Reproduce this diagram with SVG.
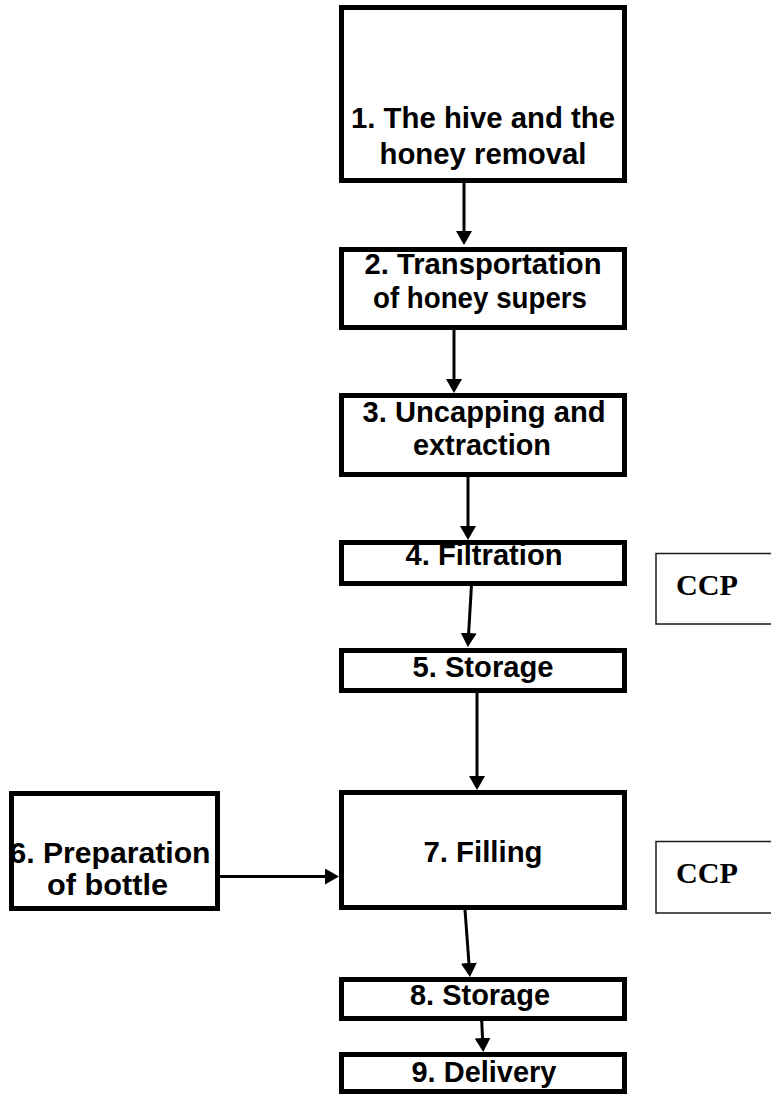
<svg xmlns="http://www.w3.org/2000/svg" width="771" height="1094" viewBox="0 0 771 1094">
  <style>
    .step { fill: #ffffff; stroke: #000000; stroke-width: 5; }
    .note { fill: #ffffff; stroke: #1a1a1a; stroke-width: 1.5; }
    .lbl { font-family: "Liberation Sans", Arial, sans-serif; font-weight: bold; font-size: 29px; fill: #000000; text-anchor: middle; }
    .ccp { font-family: "Liberation Serif", "Times New Roman", serif; font-weight: bold; font-size: 30px; fill: #000000; }
    .flow { stroke: #000000; stroke-width: 3; fill: none; marker-end: url(#head); }
  </style>
  <defs>
    <marker id="head" viewBox="0 0 14 16" refX="1" refY="8" markerWidth="14" markerHeight="16" markerUnits="userSpaceOnUse" orient="auto">
      <path d="M0,0 L14,8 L0,16 Z" fill="#000000"/>
    </marker>
  </defs>

  <rect width="771" height="1094" fill="#ffffff"/>

  <!-- process steps -->
  <g id="step1">
    <rect class="step" x="341.5" y="7.5" width="283" height="173"/>
    <text class="lbl" x="483" y="128" textLength="264" lengthAdjust="spacingAndGlyphs">1. The hive and the</text>
    <text class="lbl" x="483" y="164" textLength="207" lengthAdjust="spacingAndGlyphs">honey removal</text>
  </g>
  <g id="step2">
    <rect class="step" x="341.5" y="249.5" width="283" height="78"/>
    <text class="lbl" x="483" y="274" textLength="237" lengthAdjust="spacingAndGlyphs">2. Transportation</text>
    <text class="lbl" x="480" y="308" textLength="214" lengthAdjust="spacingAndGlyphs">of honey supers</text>
  </g>
  <g id="step3">
    <rect class="step" x="341.5" y="395.5" width="283" height="79"/>
    <text class="lbl" x="484" y="422" textLength="243" lengthAdjust="spacingAndGlyphs">3. Uncapping and</text>
    <text class="lbl" x="482" y="455" textLength="138" lengthAdjust="spacingAndGlyphs">extraction</text>
  </g>
  <g id="step4">
    <rect class="step" x="341.5" y="542.5" width="283" height="41"/>
    <text class="lbl" x="484" y="565" textLength="157" lengthAdjust="spacingAndGlyphs">4. Filtration</text>
  </g>
  <g id="step5">
    <rect class="step" x="341.5" y="650.5" width="283" height="40"/>
    <text class="lbl" x="483" y="677" textLength="141" lengthAdjust="spacingAndGlyphs">5. Storage</text>
  </g>
  <g id="step6">
    <rect class="step" x="11.5" y="793.5" width="206" height="115"/>
    <text class="lbl" x="110" y="863" textLength="201" lengthAdjust="spacingAndGlyphs">6. Preparation</text>
    <text class="lbl" x="107.5" y="895" textLength="121" lengthAdjust="spacingAndGlyphs">of bottle</text>
  </g>
  <g id="step7">
    <rect class="step" x="341.5" y="792.5" width="283" height="115"/>
    <text class="lbl" x="483" y="862" textLength="119" lengthAdjust="spacingAndGlyphs">7. Filling</text>
  </g>
  <g id="step8">
    <rect class="step" x="341.5" y="979.5" width="283" height="39"/>
    <text class="lbl" x="480" y="1005" textLength="140" lengthAdjust="spacingAndGlyphs">8. Storage</text>
  </g>
  <g id="step9">
    <rect class="step" x="341.5" y="1054.5" width="283" height="37"/>
    <text class="lbl" x="484" y="1082" textLength="145" lengthAdjust="spacingAndGlyphs">9. Delivery</text>
  </g>

  <!-- critical control point tags -->
  <g id="ccp-filtration">
    <rect class="note" x="656" y="553.5" width="130" height="70.5"/>
    <text class="ccp" x="676" y="595" textLength="62" lengthAdjust="spacingAndGlyphs">CCP</text>
  </g>
  <g id="ccp-filling">
    <rect class="note" x="656" y="841.5" width="130" height="71.5"/>
    <text class="ccp" x="676" y="883" textLength="62" lengthAdjust="spacingAndGlyphs">CCP</text>
  </g>

  <!-- flow connectors -->
  <g id="connectors">
    <line class="flow" x1="464" y1="183" x2="464" y2="232"/>
    <line class="flow" x1="454" y1="326" x2="454" y2="380"/>
    <line class="flow" x1="468" y1="477" x2="468" y2="527"/>
    <line class="flow" x1="471.5" y1="585" x2="468.6" y2="634"/>
    <line class="flow" x1="477" y1="693" x2="477" y2="777"/>
    <line class="flow" x1="220" y1="876.5" x2="326" y2="876.5"/>
    <line class="flow" x1="465" y1="910" x2="469" y2="964"/>
    <line class="flow" x1="481.7" y1="1021" x2="482.6" y2="1039"/>
  </g>
</svg>
